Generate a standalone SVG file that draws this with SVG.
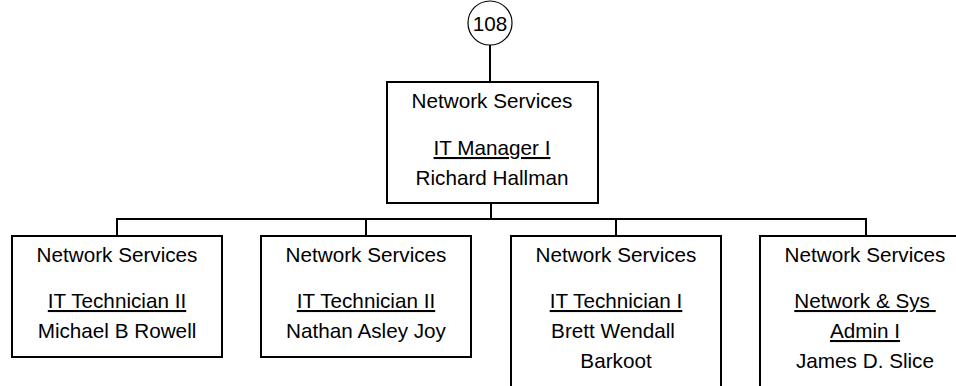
<svg xmlns="http://www.w3.org/2000/svg" width="956" height="386" viewBox="0 0 956 386">
<style>
.box{fill:#fff;stroke:#000;stroke-width:2}
.t{font-family:"Liberation Sans",Arial,sans-serif;font-size:20.7px;fill:#000;text-anchor:middle}
.u{text-decoration:underline;white-space:pre}
.c{fill:none;stroke:#000;stroke-width:2}
</style>
<rect width="956" height="386" fill="#fff"/>
<g id="connectors">
<line class="c" x1="490" y1="45" x2="490" y2="82"/>
<line class="c" x1="491" y1="203" x2="491" y2="219"/>
<polyline class="c" points="117,236 117,219 866,219 866,236"/>
<line class="c" x1="366" y1="219" x2="366" y2="236"/>
<line class="c" x1="616" y1="219" x2="616" y2="236"/>
</g>
<g id="ref108">
<circle cx="490" cy="23" r="22" fill="#fff" stroke="#000" stroke-width="1.2"/>
<text class="t" x="490" y="30.5">108</text>
</g>
<g id="manager">
<rect class="box" x="387" y="82" width="211" height="121"/>
<text class="t" x="492" y="108">Network Services</text>
<text class="t u" x="492" y="155">IT Manager I</text>
<text class="t" x="492" y="185">Richard Hallman</text>
</g>
<g id="tech1">
<rect class="box" x="12" y="236" width="210" height="121"/>
<text class="t" x="117" y="262">Network Services</text>
<text class="t u" x="117" y="308">IT Technician II</text>
<text class="t" x="117" y="338">Michael B Rowell</text>
</g>
<g id="tech2">
<rect class="box" x="261" y="236" width="210" height="121"/>
<text class="t" x="366" y="262">Network Services</text>
<text class="t u" x="366" y="308">IT Technician II</text>
<text class="t" x="366" y="338">Nathan Asley Joy</text>
</g>
<g id="tech3">
<rect class="box" x="511" y="236" width="210" height="160"/>
<text class="t" x="616" y="262">Network Services</text>
<text class="t u" x="616" y="308">IT Technician I</text>
<text class="t" x="613" y="338">Brett Wendall</text>
<text class="t" x="616" y="368">Barkoot</text>
</g>
<g id="admin">
<rect class="box" x="760" y="236" width="210" height="160"/>
<text class="t" x="865" y="262">Network Services</text>
<text class="t u" x="865" y="308" xml:space="preserve">Network &amp; Sys </text>
<text class="t u" x="865" y="338">Admin I</text>
<text class="t" x="865" y="368">James D. Slice</text>
</g>
</svg>
